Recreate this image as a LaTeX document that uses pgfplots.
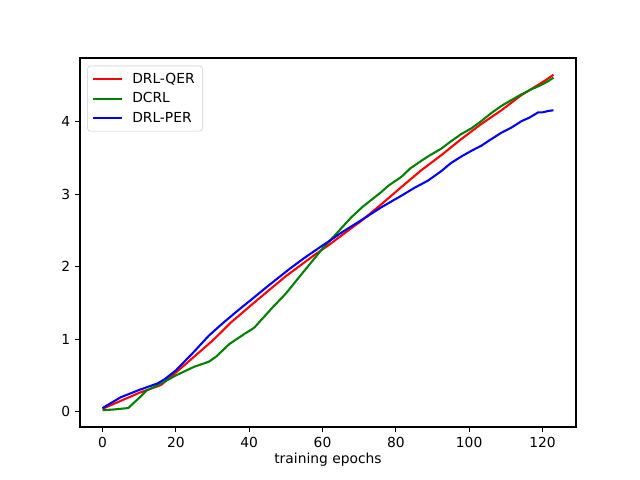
\documentclass[border=0pt]{standalone}
\usepackage{pgfplots}
\pgfplotsset{compat=1.18}
\usepackage{fontspec}
\setmainfont{DejaVu Sans}
\definecolor{mplgreen}{RGB}{0,128,0}
\begin{document}
\begin{tikzpicture}
\path[use as bounding box] (-0.80in,-0.53in) rectangle (5.60in,4.27in);
\begin{axis}[
  scale only axis,
  width=4.96in, height=3.69in,
  at={(0,0)}, anchor=south west,
  xmin=-6.15, xmax=129.15,
  ymin=-0.2115, ymax=4.8815,
  xtick={0,20,40,60,80,100,120},
  ytick={0,1,2,3,4},
  tick align=outside,
  tick pos=left,
  major tick length=3.5pt,
  tick style={black, line width=0.8pt},
  axis line style={line width=0.8pt},
  /pgf/number format/assume math mode=true,
  ticklabel style={font=\fontsize{10}{12}\selectfont},
  xlabel={training epochs},
  xlabel style={font=\fontsize{10}{12}\selectfont, yshift=3pt},
  legend style={at={(0.0147,0.979)}, anchor=north west,
    draw=black!20, rounded corners=2pt, fill=white, fill opacity=0.8, text opacity=1,
    font=\fontsize{10}{12}\selectfont, row sep=1.2pt, inner xsep=3.5pt, inner ysep=3pt},
  legend cell align=left,
  legend image code/.code={\draw[#1] (0in,0in) -- (0.29in,0in); \path (0.35in,0in);},
  every axis plot/.append style={line width=1.5pt, line join=round},
]
\addplot[red, mark=none] coordinates {
(0,0.04)(5,0.15)(10,0.26)(15,0.35)(16,0.37)(20,0.54)(25,0.76)(30,0.98)(35,1.23)(41,1.49)(45,1.66)(50,1.87)(58,2.17)(62,2.31)(63.3,2.36)(67,2.50)(70.5,2.63)(76,2.86)(81.5,3.10)(86.9,3.33)(92.4,3.54)(97.8,3.76)(103.3,3.97)(108.8,4.16)(114.3,4.37)(118.8,4.51)(121,4.58)(123,4.65)
};
\addlegendentry{DRL-QER}
\addplot[mplgreen, mark=none] coordinates {
(0,0.02)(3,0.03)(7,0.05)(10,0.19)(12,0.29)(16,0.39)(20,0.50)(25,0.62)(29,0.69)(31,0.76)(34.5,0.93)(38,1.05)(41.4,1.16)(43,1.25)(46.4,1.44)(50,1.63)(54,1.88)(58.7,2.17)(60,2.25)(63.3,2.43)(67.8,2.68)(71,2.83)(76,3.03)(78,3.12)(81.5,3.24)(84,3.36)(86.9,3.46)(89,3.53)(92.4,3.63)(95,3.73)(97.8,3.83)(100.6,3.91)(103.3,4.01)(106,4.12)(108.8,4.22)(111.5,4.30)(114.3,4.38)(117,4.45)(119.7,4.51)(121.5,4.56)(123,4.61)
};
\addlegendentry{DCRL}
\addplot[blue, mark=none] coordinates {
(0,0.05)(5,0.20)(10,0.30)(15,0.39)(17,0.45)(20,0.57)(25,0.83)(29,1.05)(33,1.23)(37,1.40)(41.4,1.58)(45,1.73)(51,1.97)(55,2.12)(59.6,2.28)(62,2.36)(65.1,2.47)(70.5,2.64)(76,2.82)(81.5,2.98)(85.1,3.09)(88.8,3.19)(92.4,3.32)(95,3.43)(97.8,3.52)(100.6,3.60)(103.3,3.67)(106,3.76)(108.8,3.85)(111.5,3.92)(114.3,4.01)(116.5,4.06)(118.8,4.13)(120,4.13)(121.5,4.15)(123,4.16)
};
\addlegendentry{DRL-PER}
\end{axis}
\end{tikzpicture}
\end{document}
